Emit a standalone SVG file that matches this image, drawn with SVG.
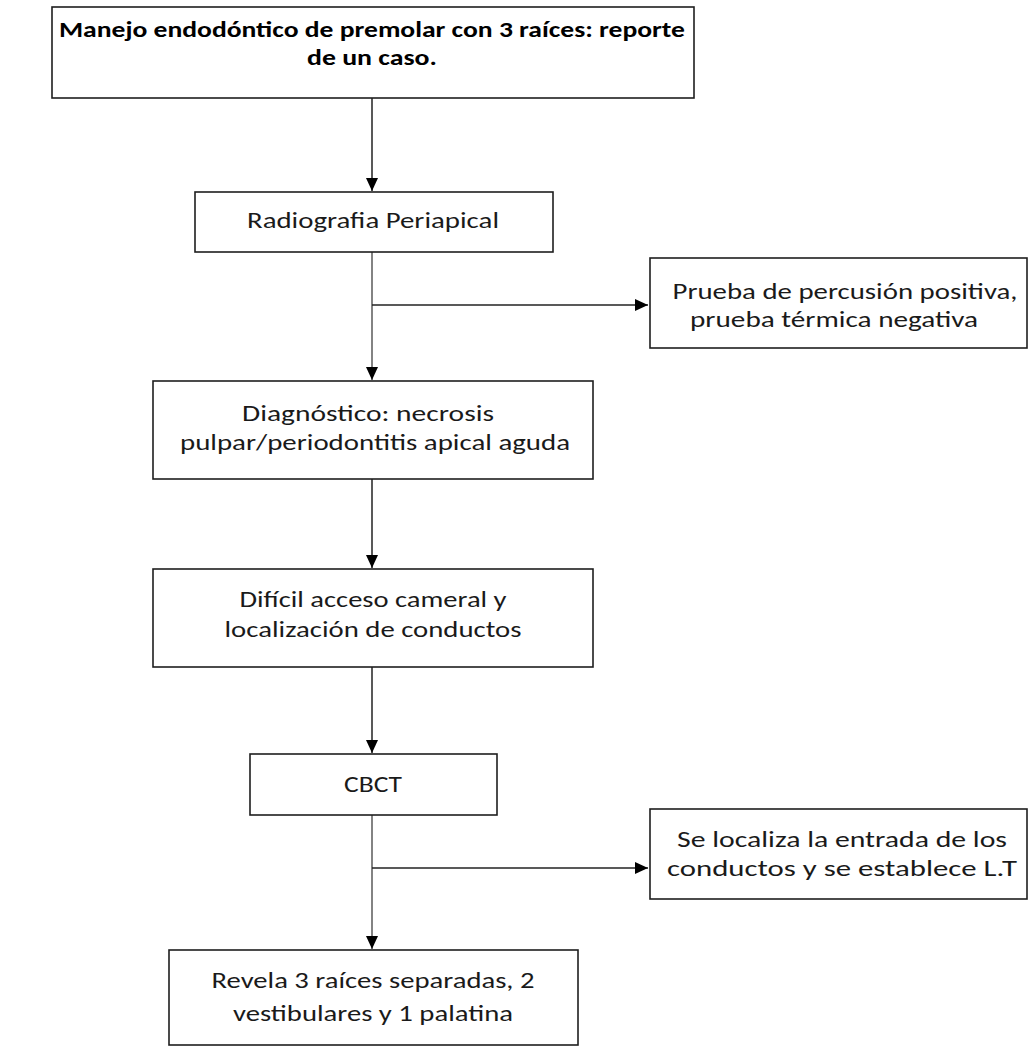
<svg xmlns="http://www.w3.org/2000/svg" width="1029" height="1046" viewBox="0 0 1029 1046">
<defs>
<style>
.box{fill:#ffffff;stroke:#1e1e1e;stroke-width:1.6}
.t{font-family:Carlito,Lato,"Liberation Sans",sans-serif;font-size:23px;fill:#1a1a1a;text-anchor:middle}
.b{font-weight:bold;fill:#000}
.c{fill:none;stroke:#222;stroke-width:1.5}
.g{stroke:#5a5a5a}
</style>
<marker id="ah" markerWidth="14" markerHeight="14" refX="13" refY="7" orient="auto" markerUnits="userSpaceOnUse">
<path d="M0,1 L13,7 L0,13 Z" fill="#000"/>
</marker>
</defs>
<rect width="1029" height="1046" fill="#ffffff"/>
<g id="connectors">
<line class="c" x1="372" y1="98" x2="372" y2="191" marker-end="url(#ah)"/>
<line class="c g" x1="372" y1="252" x2="372" y2="380" marker-end="url(#ah)"/>
<line class="c" x1="372" y1="305" x2="648" y2="305" marker-end="url(#ah)"/>
<line class="c" x1="372" y1="479" x2="372" y2="568" marker-end="url(#ah)"/>
<line class="c" x1="372" y1="667" x2="372" y2="753" marker-end="url(#ah)"/>
<line class="c g" x1="372" y1="815" x2="372" y2="949" marker-end="url(#ah)"/>
<line class="c" x1="372" y1="868" x2="648" y2="868" marker-end="url(#ah)"/>
</g>
<g id="n-title">
<rect class="box" x="52" y="7" width="642" height="91"/>
<text class="t b" x="372" y="37" textLength="626" lengthAdjust="spacingAndGlyphs">Manejo endodóntico de premolar con 3 raíces: reporte</text>
<text class="t b" x="372" y="65" textLength="130" lengthAdjust="spacingAndGlyphs">de un caso.</text>
</g>
<g id="n-radiografia">
<rect class="box" x="195" y="192" width="358" height="60"/>
<text class="t" x="373" y="228" textLength="252" lengthAdjust="spacingAndGlyphs">Radiografia Periapical</text>
</g>
<g id="n-prueba">
<rect class="box" x="650" y="258" width="377" height="90"/>
<text class="t" x="845" y="299" textLength="345" lengthAdjust="spacingAndGlyphs">Prueba de percusión positiva,</text>
<text class="t" x="834" y="327" textLength="288" lengthAdjust="spacingAndGlyphs">prueba térmica negativa</text>
</g>
<g id="n-diagnostico">
<rect class="box" x="153" y="381" width="440" height="98"/>
<text class="t" x="368" y="421" textLength="252" lengthAdjust="spacingAndGlyphs">Diagnóstico: necrosis</text>
<text class="t" x="375" y="450" textLength="390" lengthAdjust="spacingAndGlyphs">pulpar/periodontitis apical aguda</text>
</g>
<g id="n-dificil">
<rect class="box" x="153" y="569" width="440" height="98"/>
<text class="t" x="373" y="607" textLength="267" lengthAdjust="spacingAndGlyphs">Difícil acceso cameral y</text>
<text class="t" x="373" y="637" textLength="297" lengthAdjust="spacingAndGlyphs">localización de conductos</text>
</g>
<g id="n-cbct">
<rect class="box" x="250" y="754" width="247" height="61"/>
<text class="t" x="373" y="792" textLength="58" lengthAdjust="spacingAndGlyphs">CBCT</text>
</g>
<g id="n-localiza">
<rect class="box" x="650" y="809" width="377" height="90"/>
<text class="t" x="842" y="847" textLength="330" lengthAdjust="spacingAndGlyphs">Se localiza la entrada de los</text>
<text class="t" x="842" y="876" textLength="350" lengthAdjust="spacingAndGlyphs">conductos y se establece L.T</text>
</g>
<g id="n-revela">
<rect class="box" x="169" y="950" width="409" height="95"/>
<text class="t" x="373" y="988" textLength="323" lengthAdjust="spacingAndGlyphs">Revela 3 raíces separadas, 2</text>
<text class="t" x="373" y="1021" textLength="280" lengthAdjust="spacingAndGlyphs">vestibulares y 1 palatina</text>
</g>
</svg>
